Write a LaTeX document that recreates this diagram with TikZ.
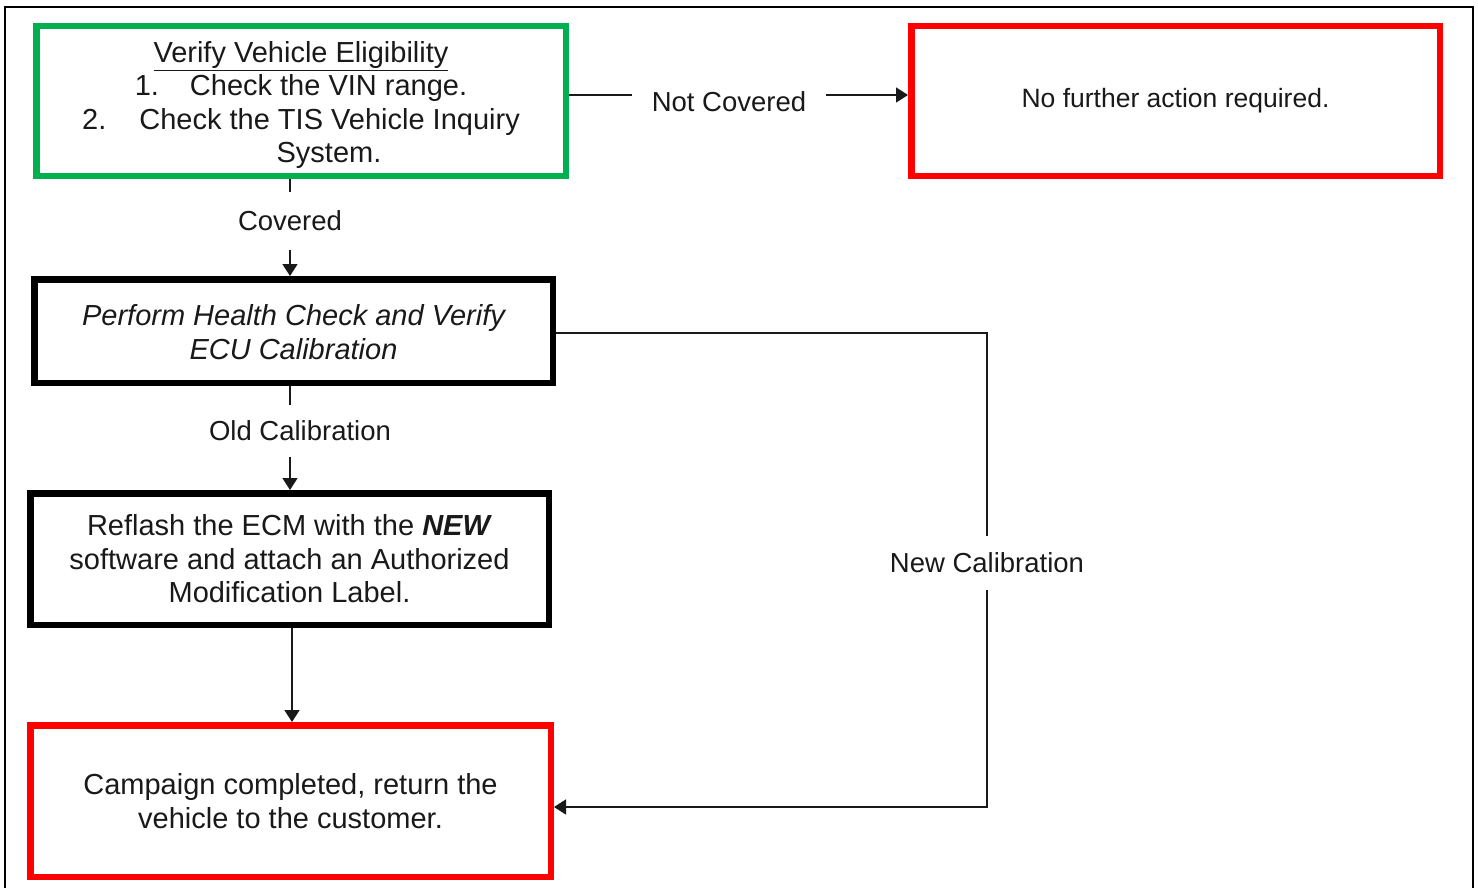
\documentclass[tikz,border=0pt]{standalone}
\usepackage{fontspec}
\setmainfont{Liberation Sans}
\usetikzlibrary{arrows.meta}
\definecolor{boxgreen}{RGB}{0,176,80}
\definecolor{boxred}{RGB}{255,0,0}
\definecolor{txt}{RGB}{25,25,25}
\begin{document}
\begin{tikzpicture}[x=1pt,y=-1pt,
  box/.style={draw, line width=6.5pt, align=center, inner sep=0pt, text=txt,
    font=\fontsize{29}{33.4}\selectfont},
  lbl/.style={inner sep=0pt, text=txt, font=\fontsize{27.5}{32}\selectfont},
  conn/.style={line width=1.6pt, draw=black!90},
  arr/.style={conn, -{Triangle[length=12pt,width=15pt]}}]
\useasboundingbox (0,0) rectangle (1478,888);
% outer frame
\draw[line width=2pt] (5,895) -- (5,7) -- (1473,7) -- (1473,895);

% boxes
\node[box, draw=boxgreen, minimum width=529.5pt, minimum height=149.5pt] (elig) at (301,101)
  {\rule{0pt}{29pt}\underline{Verify Vehicle Eligibility}\\
   1.\hspace{31pt}Check the VIN range.\\
   2.\hspace{33pt}Check the TIS Vehicle Inquiry\\
   \hspace*{56pt}System.};
\node[box, draw=boxred, minimum width=528.5pt, minimum height=149.5pt,
  font=\fontsize{26.5}{30}\selectfont] (nofurther) at (1175.5,101) {No further action required.};
\node[box, minimum width=518.5pt, minimum height=103.5pt,
  font=\itshape\fontsize{29}{34}\selectfont] (health) at (293.5,331)
  {\rule{0pt}{24pt}Perform Health Check and Verify\\ECU Calibration};
\node[box, minimum width=518.5pt, minimum height=131.5pt] (reflash) at (289.5,559)
  {Reflash the ECM with the \textbf{\textit{NEW}}\\software and attach an Authorized\\Modification Label.};
\node[box, draw=boxred, minimum width=520.5pt, minimum height=151.5pt] (done) at (290.5,801)
  {Campaign completed, return the\\vehicle to the customer.};

% labels
\node[lbl, minimum width=194pt] (notcov) at (729,102) {Not Covered};
\node[lbl, minimum height=58pt] (cov) at (290,221) {Covered};
\node[lbl, minimum height=51pt] (oldcal) at (300,431) {Old Calibration};
\node[lbl, minimum height=53pt] (newcal) at (987,563) {New Calibration};

% connectors
\draw[conn] ([yshift=6pt]elig.east) -- ([yshift=7pt]notcov.west);
\draw[arr] ([yshift=7pt]notcov.east) -- ([yshift=6pt]nofurther.west);
\draw[conn] ([xshift=-11pt]elig.south) -- (cov.north);
\draw[arr] (cov.south) -- ([xshift=-3.5pt]health.north);
\draw[conn] ([xshift=-3.5pt]health.south) -- ([xshift=-10pt]oldcal.north);
\draw[arr] ([xshift=-10pt]oldcal.south) -- ([xshift=0.5pt]reflash.north);
\draw[arr] ([xshift=2.5pt]reflash.south) -- ([xshift=1.5pt]done.north);
\draw[conn] ([yshift=-2pt]health.east) -| (newcal.north);
\draw[arr] (newcal.south) |- ([yshift=-6pt]done.east);
\end{tikzpicture}
\end{document}
